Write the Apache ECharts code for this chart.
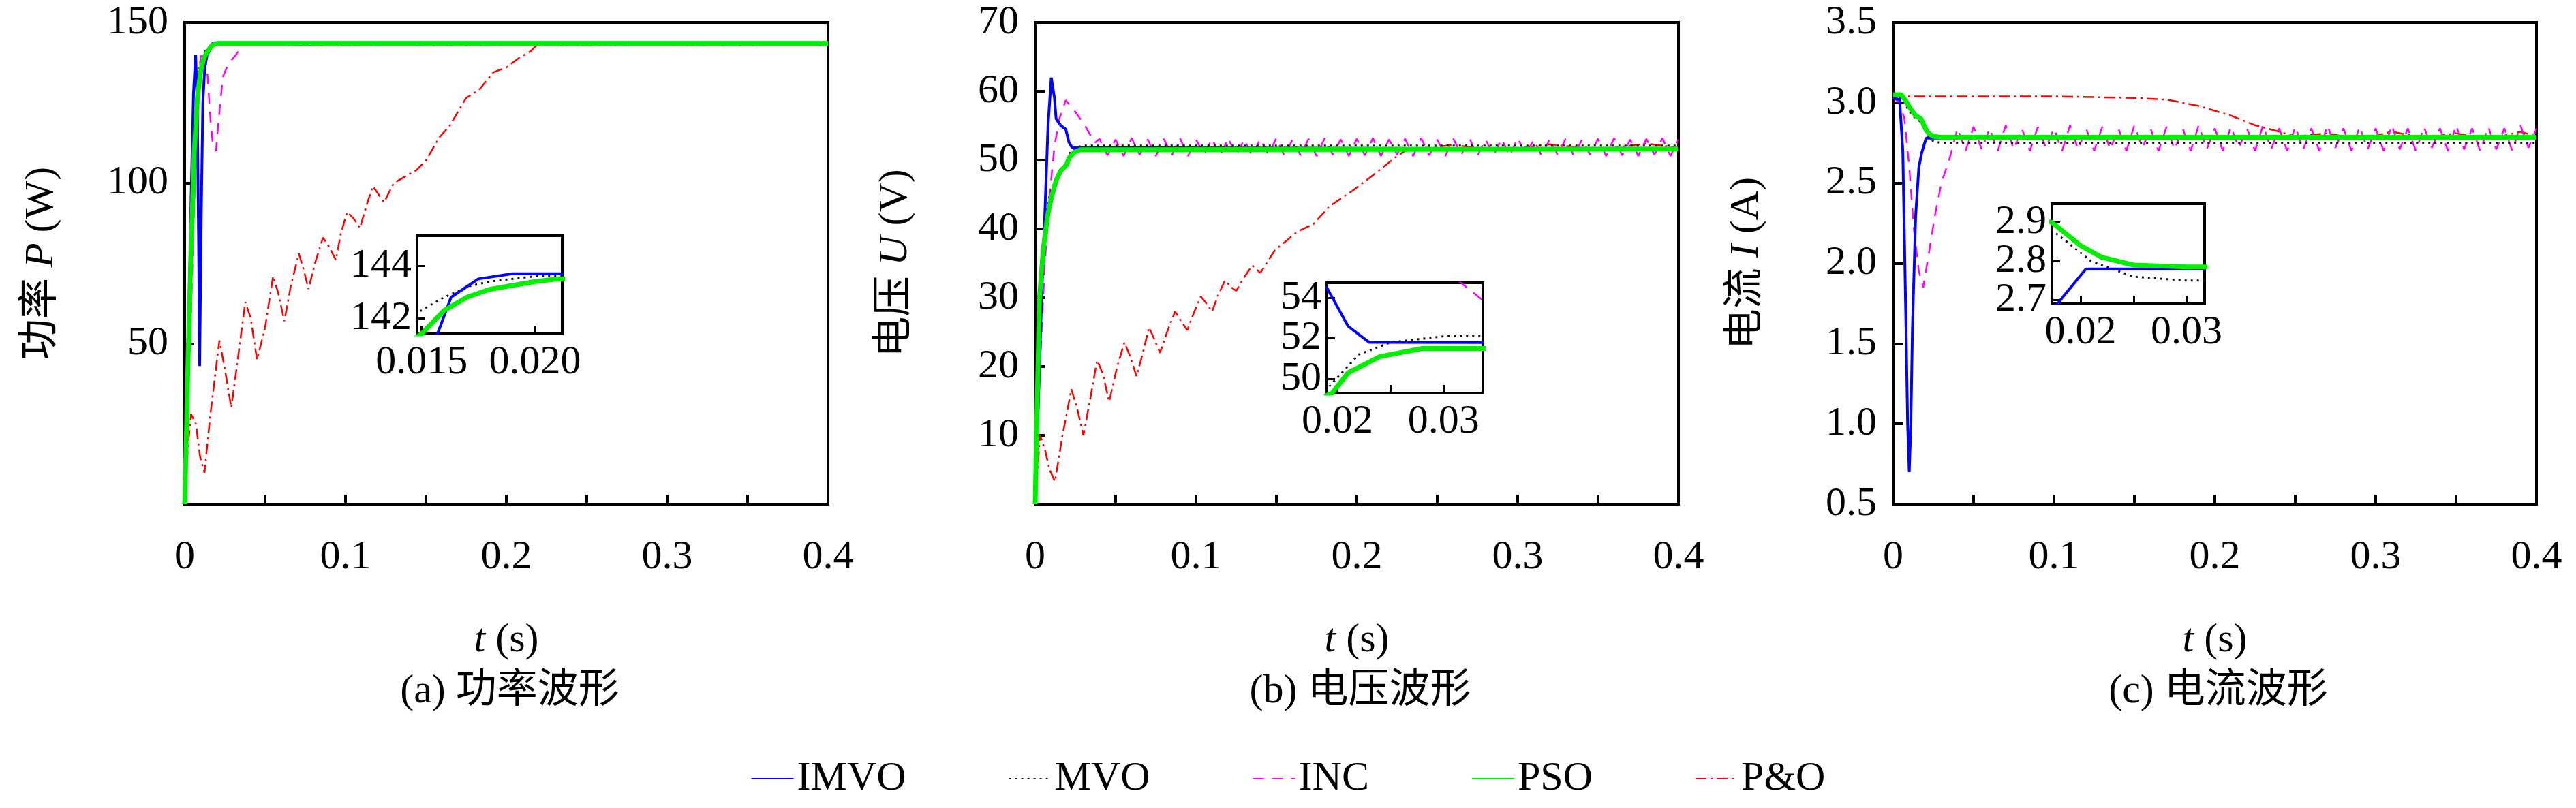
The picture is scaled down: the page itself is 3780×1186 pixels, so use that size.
<!DOCTYPE html>
<html><head><meta charset="utf-8">
<script src="https://cdn.jsdelivr.net/npm/echarts@6/dist/echarts.min.js"></script>
<style>html,body{margin:0;padding:0;background:#fff}#c{width:3780px;height:1186px}</style>
</head><body><div id="c"></div>
<script>
// ---- shared oscillation time grid (steady-state ripple samples) ----
const oscT=[0.040,0.045,0.050,0.055,0.060,0.065,0.070,0.075,0.080,0.085,0.090,0.095,0.100,0.105,0.110,0.115,0.120,0.125,0.130,0.135,0.140,0.145,0.150,0.155,0.160,0.165,0.170,0.175,0.180,0.185,0.190,0.195,0.200,0.205,0.210,0.215,0.220,0.225,0.230,0.235,0.240,0.245,0.250,0.255,0.260,0.265,0.270,0.275,0.280,0.285,0.290,0.295,0.300,0.305,0.310,0.315,0.320,0.325,0.330,0.335,0.340,0.345,0.350,0.355,0.360,0.365,0.370,0.375,0.380,0.385,0.390,0.395,0.400];
// ---- (a) power ----
const aImvoT=[0,0.002,0.004,0.0055,0.0068,0.0078,0.0086,0.0093,0.0103,0.0113,0.0125,0.014,0.0157,0.0163,0.0175,0.019,0.4];
const aImvoV=[0,40,95,128,140,125,85,43,90,125,136,140,141.4,142.8,143.5,143.7,143.7];
const aPsoT=[0,0.001,0.002,0.004,0.006,0.008,0.010,0.012,0.014,0.015,0.016,0.017,0.018,0.020,0.021,0.4];
const aPsoV=[0,20,43,80,110,127,135,139,140.8,141.4,142.3,142.8,143.1,143.4,143.5,143.5];
const aMvoT=[0,0.001,0.002,0.004,0.006,0.008,0.010,0.012,0.0148,0.016,0.017,0.018,0.020,0.021,0.4];
const aMvoV=[0,25,50,88,118,132,138,140.5,142.2,142.8,143.2,143.4,143.6,143.6,143.6];
const aIncT=[0,0.002,0.004,0.006,0.008,0.010,0.012,0.014,0.016,0.0175,0.0195,0.021,0.0237,0.027,0.032,0.036];
const aIncV=[0,30,60,95,125,140,141,135,120,112,110,119,133,137,140,143.2];
const aIncOscV=[143.6,142.9,143.6,142.8,143.5,142.9,143.6,142.8,143.6,142.9,143.5,142.8,143.6,142.9,143.6,142.8,143.5,142.9,143.6,142.8,143.6,142.9,143.5,142.8,143.6,142.9,143.6,142.8,143.5,142.9,143.6,142.8,143.6,142.9,143.5,142.8,143.6,142.9,143.6,142.8,143.5,142.9,143.6,142.8,143.6,142.9,143.5,142.8,143.6,142.9,143.6,142.8,143.5,142.9,143.6,142.8,143.6,142.9,143.5,142.8,143.6,142.9,143.6,142.8,143.5,142.9,143.6,142.8,143.6,142.9,143.5,142.8,143.6];
const aPoT=[0,0.002,0.004,0.007,0.0095,0.0123,0.016,0.0216,0.025,0.029,0.033,0.0377,0.041,0.045,0.05,0.055,0.058,0.062,0.066,0.071,0.074,0.077,0.081,0.086,0.09,0.094,0.097,0.101,0.105,0.109,0.113,0.117,0.124,0.13,0.144,0.15,0.158,0.165,0.175,0.183,0.192,0.2,0.208,0.215,0.22,0.23,0.4];
const aPoV=[0,18,28,25,15,9.8,28,51,42,30,45,63,58,45,55,71,66,57,68,78,73,67,75,83,80,76,84,91,89,86,93,99,94,100,104,107,114,118,126.5,129,134.5,136,139,141,143.5,143.5,143.5];
// ---- (b) voltage ----
const bImvoT=[0,0.002,0.004,0.006,0.008,0.010,0.012,0.013,0.016,0.019,0.021,0.023,0.4];
const bImvoV=[0,15,30,42,55,62,59,56,55,54.5,52.6,51.8,51.6];
const bPsoT=[0,0.001,0.0027,0.005,0.0078,0.010,0.013,0.016,0.0195,0.021,0.024,0.028,0.4];
const bPsoV=[0,12,30,37,42,44.5,47,48.5,49.3,50.3,51.1,51.5,51.6];
const bMvoT=[0,0.002,0.005,0.008,0.012,0.016,0.019,0.022,0.025,0.03,0.4];
const bMvoV=[0,25,38,44,47,48.5,49.5,51.2,51.8,52.1,52.1];
const bIncT=[0,0.003,0.006,0.009,0.012,0.015,0.019,0.025,0.031,0.037];
const bIncV=[0,20,35,45,52,56,58.7,57,55,52.5];
const bIncOscV=[53.1,50.7,53.0,50.6,53.2,50.8,53.0,50.6,53.1,50.7,53.2,50.6,53.0,50.8,53.1,50.6,53.2,50.7,53.0,50.6,53.1,50.8,53.2,50.6,53.0,50.7,53.1,50.6,53.2,50.8,53.0,50.6,53.1,50.7,53.2,50.6,53.0,50.8,53.1,50.6,53.2,50.7,53.0,50.6,53.1,50.8,53.2,50.6,53.0,50.7,53.1,50.6,53.2,50.8,53.0,50.6,53.1,50.7,53.2,50.6,53.0,50.8,53.1,50.6,53.2,50.7,53.0,50.6,53.1,50.8,53.2,50.6,53.0];
const bPoT=[0,0.003,0.006,0.009,0.0123,0.017,0.0225,0.026,0.030,0.034,0.0385,0.042,0.046,0.051,0.0555,0.059,0.063,0.067,0.0708,0.074,0.0776,0.082,0.087,0.091,0.0946,0.099,0.103,0.107,0.11,0.114,0.118,0.122,0.125,0.13,0.135,0.14,0.149,0.163,0.173,0.183,0.197,0.21,0.224,0.231,0.26,0.29,0.32,0.35,0.38,0.4];
const bPoV=[0,10,8,5,3.3,10,16.7,14,10,15,20.9,19,14.9,20,23.5,21.5,18.6,22,25.7,24,22,25,28,26.5,25.3,28,30.2,29,28,30.5,32.5,31.5,31,33,34.7,33.6,36.9,39.6,40.7,43.3,45.5,47.8,50.4,51.5,52.2,51.4,52.3,51.5,52.4,51.8];
// ---- (c) current ----
const cImvoT=[0,0.004,0.006,0.008,0.009,0.010,0.011,0.012,0.014,0.016,0.0178,0.0205,0.4];
const cImvoV=[3.03,3.02,2.7,1.6,1.0,0.7,1.0,1.6,2.3,2.6,2.69,2.78,2.78];
const cPsoT=[0,0.005,0.008,0.011,0.014,0.0173,0.02,0.022,0.025,0.03,0.4];
const cPsoV=[3.05,3.05,3.01,2.96,2.92,2.9,2.84,2.81,2.79,2.785,2.785];
const cMvoT=[0,0.005,0.008,0.012,0.0173,0.021,0.025,0.03,0.4];
const cMvoV=[3.04,3.03,2.98,2.92,2.88,2.8,2.76,2.75,2.75];
const cIncT=[0,0.004,0.007,0.010,0.013,0.016,0.0187,0.022,0.026,0.03,0.035];
const cIncV=[3.03,3.0,2.9,2.6,2.2,1.95,1.85,2.05,2.3,2.5,2.65];
const cIncOscV=[2.84,2.70,2.85,2.71,2.84,2.70,2.86,2.71,2.84,2.70,2.85,2.72,2.84,2.70,2.86,2.71,2.84,2.70,2.85,2.71,2.84,2.70,2.86,2.72,2.84,2.70,2.85,2.71,2.84,2.70,2.86,2.71,2.84,2.70,2.85,2.72,2.84,2.70,2.86,2.71,2.84,2.70,2.85,2.71,2.84,2.70,2.86,2.72,2.84,2.70,2.85,2.71,2.84,2.70,2.86,2.71,2.84,2.70,2.85,2.72,2.84,2.70,2.86,2.71,2.84,2.70,2.85,2.71,2.84,2.70,2.86,2.72,2.84];
const cPoT=[0,0.05,0.1,0.15,0.17,0.19,0.21,0.225,0.24,0.25,0.27,0.29,0.31,0.33,0.35,0.37,0.39,0.4];
const cPoV=[3.04,3.04,3.04,3.03,3.02,2.98,2.92,2.86,2.82,2.79,2.81,2.77,2.82,2.78,2.81,2.77,2.82,2.79];

const names=['IMVO','MVO','INC','PSO','P&O'];

function zip(t,v){return t.map((x,i)=>[x,v[i]]);}
const F='"Liberation Serif", "Noto Sans CJK SC", serif';
const FS=60;
const styles={
 'IMVO':{color:'#0000ff',width:4,type:'solid'},
 'MVO':{color:'#111111',width:3,type:[3,6]},
 'INC':{color:'#ff00ff',width:2.5,type:[16,12]},
 'PSO':{color:'#00ee00',width:7,type:'solid'},
 'P&O':{color:'#ff0000',width:2.5,type:[16,6,3,6]}
};
const panels=[
 {imvo:zip(aImvoT,aImvoV),pso:zip(aPsoT,aPsoV),mvo:zip(aMvoT,aMvoV),inc:zip(aIncT,aIncV).concat(zip(oscT,aIncOscV)),po:zip(aPoT,aPoV)},
 {imvo:zip(bImvoT,bImvoV),pso:zip(bPsoT,bPsoV),mvo:zip(bMvoT,bMvoV),inc:zip(bIncT,bIncV).concat(zip(oscT,bIncOscV)),po:zip(bPoT,bPoV)},
 {imvo:zip(cImvoT,cImvoV),pso:zip(cPsoT,cPsoV),mvo:zip(cMvoT,cMvoV),inc:zip(cIncT,cIncV).concat(zip(oscT,cIncOscV)),po:zip(cPoT,cPoV)}
];
const mainLeft=[271,1519,2778];
const grids=[],xAxes=[],yAxes=[],series=[];
const axLine={show:true,onZero:false,lineStyle:{color:'#000',width:4}};
mainLeft.forEach(l=>grids.push({left:l,top:33,width:944,height:707,show:true,borderColor:'#000',borderWidth:4,backgroundColor:'#fff'}));
const insets=[{left:612,top:346,width:213,height:144},{left:1947,top:415,width:229,height:162},{left:3011,top:299,width:224,height:147}];
insets.forEach(g=>grids.push(Object.assign({show:true,borderColor:'#000',borderWidth:4,backgroundColor:'#fff',z:5},g)));
const yCfg=[
 {min:0,max:150,interval:50,name:'功率 {i|P} (W)',gap:180,fmt:v=>v===0?'':String(v)},
 {min:0,max:70,interval:10,name:'电压 {i|U} (V)',gap:175,fmt:v=>v===0?'':String(v)},
 {min:0.5,max:3.5,interval:0.5,name:'电流 {i|I} (A)',gap:185,fmt:v=>v.toFixed(1)}
];
const nts={fontFamily:F,fontSize:FS,color:'#000',rich:{i:{fontStyle:'italic',fontFamily:F,fontSize:FS,color:'#000'}}};
for(let i=0;i<3;i++){
 xAxes.push({gridIndex:i,type:'value',min:0,max:0.4,interval:0.05,axisLine:axLine,
  axisTick:{inside:true,length:14,lineStyle:{color:'#000',width:4}},splitLine:{show:false},
  axisLabel:{margin:48,fontFamily:F,fontSize:FS,color:'#000',formatter:v=>{const k=Math.round(v*10);return Math.abs(v*10-k)<1e-6?(k===0?'0':String(k/10)):'';}},
  name:'{i|t} (s)',nameLocation:'middle',nameGap:170,nameTextStyle:nts});
 const y=yCfg[i];
 yAxes.push({gridIndex:i,type:'value',min:y.min,max:y.max,interval:y.interval,axisLine:axLine,
  axisTick:{inside:true,length:14,lineStyle:{color:'#000',width:4}},splitLine:{show:false},
  axisLabel:{margin:24,fontFamily:F,fontSize:FS,color:'#000',formatter:y.fmt},
  name:y.name,nameLocation:'middle',nameGap:y.gap,nameRotate:90,nameTextStyle:nts});
}
const insX=[{min:0.0148,max:0.0212,vals:[0.015,0.020],f:v=>v.toFixed(3)},{min:0.019,max:0.0337,vals:[0.02,0.025,0.03],lv:[0.02,0.03],f:v=>v.toFixed(2)},{min:0.0173,max:0.0317,vals:[0.02,0.025,0.03],lv:[0.02,0.03],f:v=>v.toFixed(2)}];
const insY=[{min:141.4,max:145.15,vals:[142,144],lv:[142,144],lv2:[],f:v=>String(v)},{min:49.3,max:54.74,vals:[50,52,54],lv:[50,54],lv2:[52],f:v=>String(v)},{min:2.69,max:2.948,vals:[2.7,2.8,2.9],lv:[2.7,2.9],lv2:[2.8],f:v=>v.toFixed(1)}];
for(let i=0;i<3;i++){
 const X=insX[i],Y=insY[i];
 xAxes.push({gridIndex:3+i,type:'value',min:X.min,max:X.max,z:6,axisLine:axLine,splitLine:{show:false},
  axisTick:{inside:true,length:12,customValues:X.vals,lineStyle:{color:'#000',width:3}},
  axisLabel:{customValues:X.lv||X.vals,margin:12,fontFamily:F,fontSize:FS,color:'#000',formatter:X.f}});
 yAxes.push({gridIndex:3+i,type:'value',min:Y.min,max:Y.max,z:6,axisLine:axLine,splitLine:{show:false},
  axisTick:{inside:true,length:12,customValues:Y.vals,lineStyle:{color:'#000',width:3}},
  axisLabel:{customValues:Y.lv,margin:8,hideOverlap:false,showMinLabel:true,showMaxLabel:true,fontFamily:F,fontSize:FS,color:'#000',formatter:Y.f}});
}
// secondary label-only axes for the middle inset y labels
for(let i=0;i<3;i++){
 const Y=insY[i];
 yAxes.push({gridIndex:3+i,type:'value',position:'left',min:Y.min,max:Y.max,z:6,show:Y.lv2.length>0,axisLine:{show:false},axisTick:{show:false},splitLine:{show:false},
  axisLabel:{customValues:Y.lv2.length?Y.lv2:[Y.min],margin:8,fontFamily:F,fontSize:FS,color:'#000',formatter:Y.f}});
}
const order=[['P&O','po'],['INC','inc'],['MVO','mvo'],['IMVO','imvo'],['PSO','pso']];
for(let i=0;i<3;i++){
 [0,1].forEach(ins=>{
  order.forEach(([n,k])=>{
   const s=styles[n];
   series.push({name:n,type:'line',xAxisIndex:i+3*ins,yAxisIndex:i+3*ins,data:panels[i][k],showSymbol:false,symbol:'none',
    z:ins?7:2,animation:false,clip:true,lineStyle:{color:s.color,width:s.width,type:s.type},itemStyle:{color:s.color}});
  });
 });
}
const captions=['(a) 功率波形','(b) 电压波形','(c) 电流波形'];
const chart=echarts.init(document.getElementById('c'));
chart.setOption({
 backgroundColor:'#fff',animation:false,
 title:captions.map((c,i)=>({text:c,left:mainLeft[i]+472,textAlign:'center',top:980,textStyle:{fontFamily:F,fontSize:FS,fontWeight:'normal',color:'#000'}})),
 legend:{data:names,top:1108,left:'center',itemWidth:62,itemHeight:20,itemGap:150,itemStyle:{opacity:0},textStyle:{fontFamily:F,fontSize:FS,color:'#000'}},
 grid:grids,xAxis:xAxes,yAxis:yAxes,series:series
});
</script></body></html>
